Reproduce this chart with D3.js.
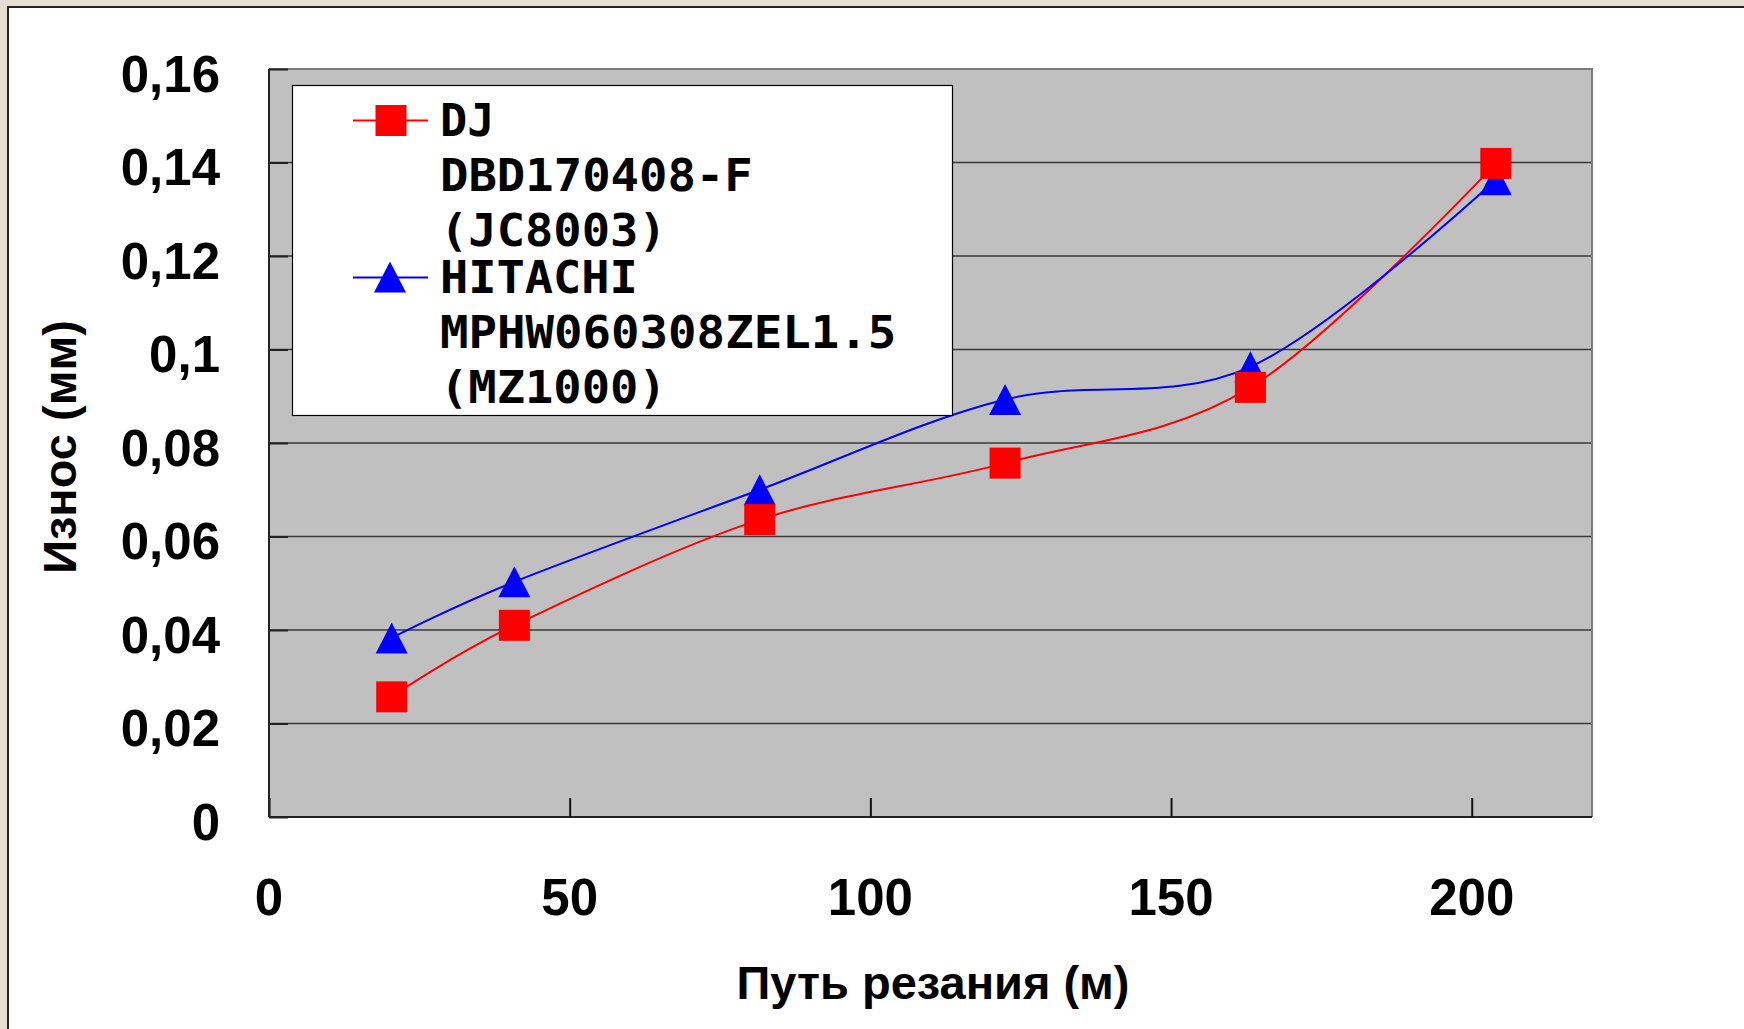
<!DOCTYPE html>
<html>
<head>
<meta charset="utf-8">
<script src="https://cdn.jsdelivr.net/npm/d3@7"></script>
<style>
  html, body { margin: 0; padding: 0; background: #E6DED0; }
  svg { display: block; }
</style>
</head>
<body>
<svg id="chart" width="1744" height="1029"></svg>
<script>
// ---- data ----
const xValues = [20.4, 40.8, 81.6, 122.4, 163.2, 204];
const djValues = [0.0257, 0.041, 0.0636, 0.0757, 0.0919, 0.1398];
const hitachiValues = [0.0383, 0.0503, 0.07, 0.0893, 0.0963, 0.1363];
const xTicks = [0, 50, 100, 150, 200];
const yTicks = [0, 0.02, 0.04, 0.06, 0.08, 0.1, 0.12, 0.14, 0.16];
const yTickLabels = ["0", "0,02", "0,04", "0,06", "0,08", "0,1", "0,12", "0,14", "0,16"];
const djLegend = ["DJ", "DBD170408-F", "(JC8003)"];
const hitachiLegend = ["HITACHI", "MPHW060308ZEL1.5", "(MZ1000)"];
const xTitle = "Путь резания (м)";
const yTitle = "Износ (мм)";

// ---- layout ----
const svg = d3.select("#chart");
const W = 1744, H = 1029;
const plot = { left: 269, right: 1592, top: 69, bottom: 817 };

// background texture + white panel
svg.append("rect").attr("width", W).attr("height", H).attr("fill", "#E6DED0");
svg.append("rect").attr("x", 8).attr("y", 7).attr("width", W + 20).attr("height", H + 20)
  .attr("fill", "#ffffff").attr("stroke", "#222").attr("stroke-width", 2);

const x = d3.scaleLinear().domain([0, 220]).range([plot.left, plot.right]);
const y = d3.scaleLinear().domain([0, 0.16]).range([plot.bottom, plot.top]);

// plot area
svg.append("rect").attr("x", plot.left).attr("y", plot.top)
  .attr("width", plot.right - plot.left).attr("height", plot.bottom - plot.top)
  .attr("fill", "#C0C0C0");

// gridlines
svg.append("g").selectAll("line").data(yTicks.filter(d => d > 0 && d < 0.16)).join("line")
  .attr("x1", plot.left).attr("x2", plot.right)
  .attr("y1", d => y(d)).attr("y2", d => y(d))
  .attr("stroke", "#3a3a3a").attr("stroke-width", 1.6);

// top & right border (gray)
svg.append("path")
  .attr("d", `M${plot.left},${plot.top}H${plot.right}V${plot.bottom}`)
  .attr("fill", "none").attr("stroke", "#7a7a7a").attr("stroke-width", 2);

// axes with inward ticks
const xAxis = d3.axisBottom(x).tickValues(xTicks).tickSize(-19).tickFormat("");
const gx = svg.append("g").attr("transform", `translate(0,${plot.bottom})`).call(xAxis);
gx.select(".domain").attr("stroke", "#222").attr("stroke-width", 2).attr("d", `M${plot.left},0H${plot.right}`);
gx.selectAll(".tick line").attr("stroke", "#111").attr("stroke-width", 2);

const yAxis = d3.axisLeft(y).tickValues(yTicks).tickSize(-19).tickFormat("");
const gy = svg.append("g").attr("transform", `translate(${plot.left},0)`).call(yAxis);
gy.select(".domain").attr("stroke", "#222").attr("stroke-width", 2).attr("d", `M0,${plot.top}V${plot.bottom}`);
gy.selectAll(".tick line").attr("stroke", "#222").attr("stroke-width", 2);

// tick labels
const labelFont = "'Liberation Sans', Arial, sans-serif";
svg.append("g").selectAll("text").data(yTicks).join("text")
  .attr("x", 220).attr("y", d => y(d) + 22.5)
  .attr("text-anchor", "end")
  .attr("font-family", labelFont).attr("font-weight", "bold").attr("font-size", 51)
  .attr("fill", "#000")
  .text((d, i) => yTickLabels[i]);

svg.append("g").selectAll("text").data(xTicks).join("text")
  .attr("x", d => x(d)).attr("y", 915)
  .attr("text-anchor", "middle")
  .attr("font-family", labelFont).attr("font-weight", "bold").attr("font-size", 51)
  .attr("fill", "#000")
  .text(d => d);

// axis titles
svg.append("text").attr("x", 933).attr("y", 999).attr("text-anchor", "middle")
  .attr("font-family", labelFont).attr("font-weight", "bold").attr("font-size", 47)
  .text(xTitle);
svg.append("text").attr("transform", "translate(76,447) rotate(-90)").attr("text-anchor", "middle")
  .attr("font-family", labelFont).attr("font-weight", "bold").attr("font-size", 47)
  .text(yTitle);

// series
const line = d3.line().x(d => x(d[0])).y(d => y(d[1])).curve(d3.curveCatmullRom.alpha(0));
const djData = xValues.map((v, i) => [v, djValues[i]]);
const hiData = xValues.map((v, i) => [v, hitachiValues[i]]);

svg.append("path").datum(djData).attr("d", line)
  .attr("fill", "none").attr("stroke", "#FF0000").attr("stroke-width", 2);
svg.append("path").datum(hiData).attr("d", line)
  .attr("fill", "none").attr("stroke", "#0000FF").attr("stroke-width", 2);

const SQ = 31;
const triPath = (w, h) => `M0,${-h / 2}L${w / 2},${h / 2}L${-w / 2},${h / 2}Z`;

svg.append("g").selectAll("path").data(hiData).join("path")
  .attr("transform", d => `translate(${x(d[0])},${y(d[1])})`)
  .attr("d", triPath(32, 31)).attr("fill", "#0000FF");
svg.append("g").selectAll("rect").data(djData).join("rect")
  .attr("x", d => x(d[0]) - SQ / 2).attr("y", d => y(d[1]) - SQ / 2)
  .attr("width", SQ).attr("height", SQ).attr("fill", "#FF0000");

// legend
const lg = svg.append("g");
lg.append("rect").attr("x", 292.5).attr("y", 85.5).attr("width", 660).attr("height", 330)
  .attr("fill", "#fff").attr("stroke", "#000").attr("stroke-width", 1.2);

lg.append("line").attr("x1", 353).attr("x2", 428).attr("y1", 120.5).attr("y2", 120.5)
  .attr("stroke", "#FF0000").attr("stroke-width", 2);
lg.append("rect").attr("x", 391 - SQ / 2).attr("y", 120.5 - SQ / 2).attr("width", SQ).attr("height", SQ)
  .attr("fill", "#FF0000");
lg.append("line").attr("x1", 353).attr("x2", 428).attr("y1", 277.5).attr("y2", 277.5)
  .attr("stroke", "#0000FF").attr("stroke-width", 2);
lg.append("path").attr("transform", "translate(390,277)").attr("d", triPath(32, 31))
  .attr("fill", "#0000FF");

const legFont = "'DejaVu Sans Mono', 'Liberation Mono', monospace";
const charW = 28.7;
function legendLines(lines, y0) {
  lines.forEach((t, i) => {
    lg.append("text").attr("x", 440).attr("y", y0 + i * 55)
      .attr("font-family", legFont).attr("font-size", 44).attr("font-weight", "bold")
      .attr("textLength", t.length * charW - 3).attr("lengthAdjust", "spacingAndGlyphs")
      .attr("fill", "#000").text(t);
  });
}
legendLines(djLegend, 136);
legendLines(hitachiLegend, 293);
</script>
</body>
</html>
